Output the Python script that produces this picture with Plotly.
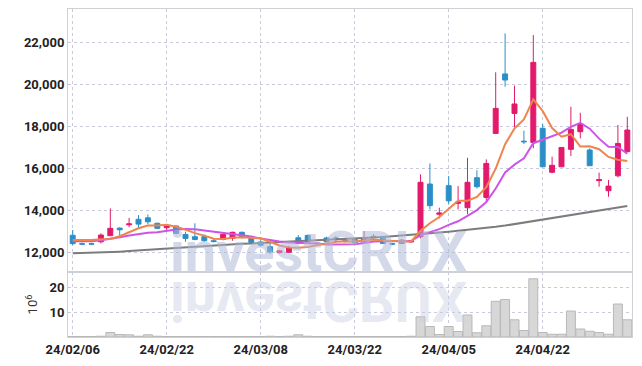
import plotly.graph_objects as go
from plotly.subplots import make_subplots

dates = [
    "2024-02-06", "2024-02-07", "2024-02-08", "2024-02-13", "2024-02-14", "2024-02-15", "2024-02-16",
    "2024-02-19", "2024-02-20", "2024-02-21", "2024-02-22", "2024-02-23", "2024-02-26", "2024-02-27",
    "2024-02-28", "2024-02-29", "2024-03-04", "2024-03-05", "2024-03-06", "2024-03-07", "2024-03-08",
    "2024-03-11", "2024-03-12", "2024-03-13", "2024-03-14", "2024-03-15", "2024-03-18", "2024-03-19",
    "2024-03-20", "2024-03-21", "2024-03-22", "2024-03-25", "2024-03-26", "2024-03-27", "2024-03-28",
    "2024-03-29", "2024-04-01", "2024-04-02", "2024-04-03", "2024-04-04", "2024-04-05", "2024-04-08",
    "2024-04-09", "2024-04-11", "2024-04-12", "2024-04-15", "2024-04-16", "2024-04-17", "2024-04-18",
    "2024-04-19", "2024-04-22", "2024-04-23", "2024-04-24", "2024-04-25", "2024-04-26", "2024-04-29",
    "2024-04-30", "2024-05-02", "2024-05-03", "2024-05-07",
]

opens = [12800, 12400, 12400, 12490, 12780, 13140, 13300, 13560, 13630, 13370,
         13160, 13240, 12840, 12730, 12730, 12540, 12600, 12650, 12940, 12650,
         12480, 12250, 11970, 11990, 12680, 12790, 12390, 12670, 12670, 12560,
         12600, 12490, 12750, 12650, 12400, 12570, 12480, 12730, 15240, 13800,
         15160, 14320, 14110, 15540, 14600, 17650, 20480, 18600, 17280, 17220,
         17890, 15800, 16060, 16890, 17730, 16860, 15400, 14920, 15630, 16780]
highs = [13050, 12450, 12440, 12890, 14080, 13180, 13630, 13760, 13790, 13400,
         13260, 13260, 12970, 13370, 12830, 12620, 12900, 12970, 12980, 12700,
         12570, 12570, 12100, 12300, 12810, 12830, 12450, 12730, 12760, 12620,
         12640, 13000, 12850, 12700, 12440, 12620, 12570, 15700, 16220, 14110,
         15620, 15140, 16490, 15900, 16410, 20560, 22410, 19920, 17780, 22330,
         18100, 16540, 17000, 18920, 18630, 16940, 15780, 15430, 18050, 18440]
lows = [12330, 12330, 12330, 12410, 12760, 12780, 13180, 13130, 13320, 13100,
        13000, 12850, 12490, 12560, 12490, 12460, 12560, 12540, 12650, 12400,
        12260, 11900, 11940, 11960, 12380, 12440, 12350, 12440, 12510, 12450,
        12400, 12420, 12650, 12380, 12330, 12380, 12440, 12650, 14030, 13600,
        14270, 14030, 13800, 15030, 14400, 17650, 19870, 17940, 17140, 16940,
        16060, 15750, 16040, 16570, 17410, 16110, 15110, 14630, 15560, 16750]
closes = [12400, 12380, 12380, 12810, 13130, 13060, 13340, 13330, 13440, 13130,
          13240, 12890, 12650, 12600, 12540, 12500, 12840, 12940, 12700, 12460,
          12330, 12010, 12060, 12220, 12410, 12490, 12420, 12490, 12640, 12530,
          12440, 12650, 12720, 12410, 12380, 12410, 12540, 15320, 14210, 13860,
          14440, 14380, 15320, 15110, 16220, 18840, 20190, 19050, 17250, 21030,
          16060, 16130, 16980, 17840, 18100, 16110, 15450, 15140, 17170, 17810]
volumes = [0.2, 0.2, 0.2, 0.3, 1.8, 1.0, 0.9, 0.3, 0.9, 0.3,
           0.2, 0.2, 0.2, 0.2, 0.2, 0.2, 0.2, 0.2, 0.2, 0.2,
           0.2, 0.3, 0.2, 0.3, 0.9, 0.3, 0.2, 0.2, 0.2, 0.2,
           0.2, 0.2, 0.2, 0.2, 0.2, 0.2, 0.3, 8.1, 4.2, 1.0,
           4.2, 2.2, 8.8, 1.7, 4.5, 14.3, 15.0, 6.9, 2.6, 23.3,
           1.8, 1.1, 1.1, 10.4, 3.2, 2.3, 1.8, 1.1, 13.2, 6.9]

# moving-average values before enough closes are in the window
ma5_head = [12580, 12570, 12570, 12610]
ma10_head = [12520, 12510, 12520, 12560, 12620, 12700, 12790, 12870, 12920]
ma60 = [11940, 11950, 11965, 11980, 12000, 12020, 12045, 12075, 12105, 12140,
        12180, 12210, 12240, 12270, 12300, 12330, 12350, 12370, 12390, 12410,
        12430, 12445, 12460, 12480, 12500, 12520, 12545, 12570, 12595, 12620,
        12645, 12670, 12695, 12720, 12750, 12790, 12810, 12850, 12890, 12930,
        12970, 13010, 13050, 13090, 13140, 13200, 13260, 13330, 13400, 13470,
        13540, 13610, 13680, 13750, 13820, 13890, 13960, 14030, 14110, 14190]

tick_dates = ["2024-02-06", "2024-02-22", "2024-03-08", "2024-03-22", "2024-04-05", "2024-04-22"]
tick_labels = ["24/02/06", "24/02/22", "24/03/08", "24/03/22", "24/04/05", "24/04/22"]
price_ticks = [12000, 14000, 16000, 18000, 20000, 22000]
volume_ticks = [10, 20]
watermark = "investCRUX"


def moving_average(values, n, head):
    out = list(head)
    for i in range(n - 1, len(values)):
        out.append(sum(values[i - n + 1:i + 1]) / n)
    return out


ma5 = moving_average(closes, 5, ma5_head)
ma10 = moving_average(closes, 10, ma10_head)

RED = "#E3196B"
BLUE = "#2A8FC7"
GRID = "#C9CBDD"
AXIS = "#CFCFD6"
TICKFONT = dict(family="Roboto", size=13, color="#222222", weight="bold")

fig = make_subplots(rows=2, cols=1, shared_xaxes=True, vertical_spacing=0,
                    row_heights=[0.802, 0.198])

fig.add_trace(go.Candlestick(
    x=dates, open=opens, high=highs, low=lows, close=closes,
    increasing=dict(line=dict(color=RED, width=1), fillcolor=RED),
    decreasing=dict(line=dict(color=BLUE, width=1), fillcolor=BLUE),
    whiskerwidth=0, showlegend=False, hoverinfo="skip"), row=1, col=1)

fig.add_trace(go.Scatter(x=dates, y=ma60, mode="lines", line=dict(color="#7C7C7C", width=2),
                         showlegend=False, hoverinfo="skip"), row=1, col=1)
fig.add_trace(go.Scatter(x=dates, y=ma10, mode="lines", line=dict(color="#CC55E8", width=2),
                         showlegend=False, hoverinfo="skip"), row=1, col=1)
fig.add_trace(go.Scatter(x=dates, y=ma5, mode="lines", line=dict(color="#F0844C", width=2),
                         showlegend=False, hoverinfo="skip"), row=1, col=1)

fig.add_trace(go.Bar(x=dates, y=volumes, marker=dict(color="#D7D7D7", line=dict(color="#B8B8B8", width=1)),
                     showlegend=False, hoverinfo="skip"), row=2, col=1)

xcommon = dict(type="category", range=[-0.5, 59.5], showgrid=True, gridcolor=GRID, griddash="dot",
               gridwidth=1, showline=True, linecolor=AXIS, linewidth=1, mirror=True,
               tickvals=tick_dates, ticktext=tick_labels, ticks="", tickfont=TICKFONT,
               automargin=False)
fig.update_xaxes(**xcommon)
fig.update_xaxes(showticklabels=False, rangeslider_visible=False, row=1, col=1)
fig.update_xaxes(showticklabels=True, row=2, col=1)

fig.update_yaxes(range=[11048, 23571], tickvals=price_ticks, tickformat=",d", showgrid=True,
                 gridcolor=GRID, griddash="dot", showline=True, linecolor=AXIS, mirror=True,
                 ticks="", tickfont=TICKFONT, zeroline=False, automargin=False, row=1, col=1)
fig.update_yaxes(range=[0, 26], tickvals=volume_ticks, showgrid=True, gridcolor=GRID, griddash="dot",
                 showline=True, linecolor=AXIS, mirror=True, ticks="", tickfont=TICKFONT,
                 zeroline=False, automargin=False,
                 title=dict(text="10<sup>6</sup>", standoff=8,
                            font=dict(family="Roboto", size=13, color="#333333")),
                 row=2, col=1)

fig.add_annotation(text=watermark, xref="paper", yref="paper", x=0.445, y=0.26,
                   xanchor="center", yanchor="middle", showarrow=False,
                   font=dict(family="Roboto", size=56, color="rgba(176,185,215,0.55)", weight="bold"))
fig.add_annotation(text=watermark, xref="paper", yref="paper", x=0.445, y=0.11,
                   xanchor="center", yanchor="middle", showarrow=False,
                   font=dict(family="Roboto", size=56, color="rgba(200,206,226,0.45)", weight="bold"))

fig.update_layout(width=642, height=366, margin=dict(l=68, r=10, t=9, b=29),
                  plot_bgcolor="white", paper_bgcolor="white", bargap=0.05, boxgap=0.25,
                  hovermode=False, showlegend=False)

flip_js = """
document.body.style.margin = '0';
document.body.style.padding = '0';
var gd = document.getElementById('{plot_id}');
function flipReflection() {
  var g = gd.querySelector('g.annotation[data-index="1"]');
  if (!g) return;
  g.removeAttribute('transform');
  var bb = g.getBBox();
  var cy = bb.y + bb.height / 2;
  g.setAttribute('transform', 'translate(0,' + (2 * cy) + ') scale(1,-1)');
}
flipReflection();
gd.on('plotly_afterplot', flipReflection);
"""

fig.write_html("out.html", config={"displayModeBar": False}, post_script=flip_js)
